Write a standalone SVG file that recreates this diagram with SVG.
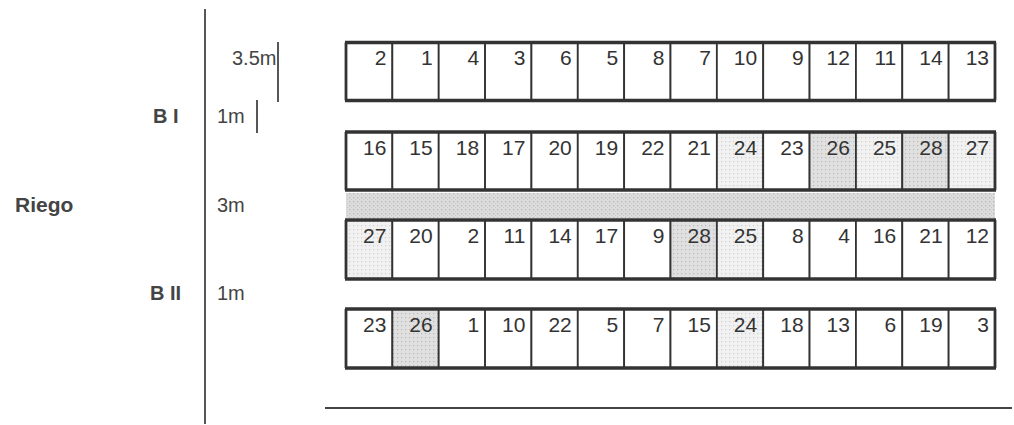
<svg xmlns="http://www.w3.org/2000/svg" width="1014" height="425" viewBox="0 0 1014 425">
<style>
.c{stroke:#333;stroke-width:1.8;fill:#fff}
.lt{fill:url(#plt)}
.md{fill:url(#pmd)}
.n{font-family:"Liberation Sans",Arial,sans-serif;font-size:21px;fill:#333;text-anchor:end}
.lb{font-family:"Liberation Sans",Arial,sans-serif;font-size:20px;fill:#444}
.b{font-weight:bold}
.edge{stroke:#333;stroke-width:3.5}
.side{stroke:#333;stroke-width:2.8}
.ln{stroke:#444;stroke-width:1.8;fill:none}
</style>
<defs>
<pattern id="plt" width="4" height="4" patternUnits="userSpaceOnUse"><rect width="4" height="4" fill="#f1f1f1"/><rect x="1" y="1" width="1.2" height="1.2" fill="#cfcfcf"/></pattern>
<pattern id="pmd" width="4" height="4" patternUnits="userSpaceOnUse"><rect width="4" height="4" fill="#e0e0e0"/><rect x="1" y="1" width="1.2" height="1.2" fill="#b9b9b9"/></pattern>
<pattern id="pbd" width="4" height="4" patternUnits="userSpaceOnUse"><rect width="4" height="4" fill="#dcdcdc"/><rect x="1" y="1" width="1.3" height="1.3" fill="#b8b8b8"/><rect x="3" y="3" width="1" height="1" fill="#cacaca"/></pattern>
</defs>
<rect width="1014" height="425" fill="#fff"/>

<g id="labels">
<text class="lb" x="232" y="65">3.5m</text>
<text class="lb b" x="153" y="123">B I</text>
<text class="lb" x="217" y="123">1m</text>
<text class="lb b" x="15" y="212" style="font-size:21px">Riego</text>
<text class="lb" x="217" y="212">3m</text>
<text class="lb b" x="150" y="300">B II</text>
<text class="lb" x="217" y="300">1m</text>
</g>

<g id="connectors">
<line class="ln" x1="205" y1="9" x2="205" y2="424"/>
<line class="ln" x1="278" y1="42" x2="278" y2="102"/>
<line class="ln" x1="257" y1="100" x2="257" y2="133"/>
<line class="ln" x1="325" y1="408" x2="1012" y2="408"/>
</g>

<g id="riego-band"><rect x="346" y="193" width="649" height="25" fill="url(#pbd)"/></g>

<g id="row1">
<g id="r1c1"><rect class="c" x="346" y="42.5" width="46.36" height="58"/><text class="n" x="386.4" y="65">2</text></g>
<g id="r1c2"><rect class="c" x="392.36" y="42.5" width="46.36" height="58"/><text class="n" x="432.7" y="65">1</text></g>
<g id="r1c3"><rect class="c" x="438.71" y="42.5" width="46.36" height="58"/><text class="n" x="479.1" y="65">4</text></g>
<g id="r1c4"><rect class="c" x="485.07" y="42.5" width="46.36" height="58"/><text class="n" x="525.4" y="65">3</text></g>
<g id="r1c5"><rect class="c" x="531.43" y="42.5" width="46.36" height="58"/><text class="n" x="571.8" y="65">6</text></g>
<g id="r1c6"><rect class="c" x="577.79" y="42.5" width="46.36" height="58"/><text class="n" x="618.1" y="65">5</text></g>
<g id="r1c7"><rect class="c" x="624.14" y="42.5" width="46.36" height="58"/><text class="n" x="664.5" y="65">8</text></g>
<g id="r1c8"><rect class="c" x="670.5" y="42.5" width="46.36" height="58"/><text class="n" x="710.9" y="65">7</text></g>
<g id="r1c9"><rect class="c" x="716.86" y="42.5" width="46.36" height="58"/><text class="n" x="757.2" y="65">10</text></g>
<g id="r1c10"><rect class="c" x="763.21" y="42.5" width="46.36" height="58"/><text class="n" x="803.6" y="65">9</text></g>
<g id="r1c11"><rect class="c" x="809.57" y="42.5" width="46.36" height="58"/><text class="n" x="849.9" y="65">12</text></g>
<g id="r1c12"><rect class="c" x="855.93" y="42.5" width="46.36" height="58"/><text class="n" x="896.3" y="65">11</text></g>
<g id="r1c13"><rect class="c" x="902.29" y="42.5" width="46.36" height="58"/><text class="n" x="942.6" y="65">14</text></g>
<g id="r1c14"><rect class="c" x="948.64" y="42.5" width="46.36" height="58"/><text class="n" x="989" y="65">13</text></g>
<line class="side" x1="346" y1="42.5" x2="346" y2="100.5"/><line class="side" x1="995" y1="42.5" x2="995" y2="100.5"/>
<line class="edge" x1="345" y1="42.5" x2="996" y2="42.5"/><line class="edge" x1="345" y1="100.5" x2="996" y2="100.5"/>
</g>

<g id="row2">
<g id="r2c1"><rect class="c" x="346" y="132" width="46.36" height="58"/><text class="n" x="386.4" y="154.5">16</text></g>
<g id="r2c2"><rect class="c" x="392.36" y="132" width="46.36" height="58"/><text class="n" x="432.7" y="154.5">15</text></g>
<g id="r2c3"><rect class="c" x="438.71" y="132" width="46.36" height="58"/><text class="n" x="479.1" y="154.5">18</text></g>
<g id="r2c4"><rect class="c" x="485.07" y="132" width="46.36" height="58"/><text class="n" x="525.4" y="154.5">17</text></g>
<g id="r2c5"><rect class="c" x="531.43" y="132" width="46.36" height="58"/><text class="n" x="571.8" y="154.5">20</text></g>
<g id="r2c6"><rect class="c" x="577.79" y="132" width="46.36" height="58"/><text class="n" x="618.1" y="154.5">19</text></g>
<g id="r2c7"><rect class="c" x="624.14" y="132" width="46.36" height="58"/><text class="n" x="664.5" y="154.5">22</text></g>
<g id="r2c8"><rect class="c" x="670.5" y="132" width="46.36" height="58"/><text class="n" x="710.9" y="154.5">21</text></g>
<g id="r2c9"><rect class="c lt" x="716.86" y="132" width="46.36" height="58"/><text class="n" x="757.2" y="154.5">24</text></g>
<g id="r2c10"><rect class="c" x="763.21" y="132" width="46.36" height="58"/><text class="n" x="803.6" y="154.5">23</text></g>
<g id="r2c11"><rect class="c md" x="809.57" y="132" width="46.36" height="58"/><text class="n" x="849.9" y="154.5">26</text></g>
<g id="r2c12"><rect class="c lt" x="855.93" y="132" width="46.36" height="58"/><text class="n" x="896.3" y="154.5">25</text></g>
<g id="r2c13"><rect class="c md" x="902.29" y="132" width="46.36" height="58"/><text class="n" x="942.6" y="154.5">28</text></g>
<g id="r2c14"><rect class="c lt" x="948.64" y="132" width="46.36" height="58"/><text class="n" x="989" y="154.5">27</text></g>
<line class="side" x1="346" y1="132" x2="346" y2="190"/><line class="side" x1="995" y1="132" x2="995" y2="190"/>
<line class="edge" x1="345" y1="132" x2="996" y2="132"/><line class="edge" x1="345" y1="190" x2="996" y2="190"/>
</g>

<g id="row3">
<g id="r3c1"><rect class="c lt" x="346" y="220" width="46.36" height="59"/><text class="n" x="386.4" y="243">27</text></g>
<g id="r3c2"><rect class="c" x="392.36" y="220" width="46.36" height="59"/><text class="n" x="432.7" y="243">20</text></g>
<g id="r3c3"><rect class="c" x="438.71" y="220" width="46.36" height="59"/><text class="n" x="479.1" y="243">2</text></g>
<g id="r3c4"><rect class="c" x="485.07" y="220" width="46.36" height="59"/><text class="n" x="525.4" y="243">11</text></g>
<g id="r3c5"><rect class="c" x="531.43" y="220" width="46.36" height="59"/><text class="n" x="571.8" y="243">14</text></g>
<g id="r3c6"><rect class="c" x="577.79" y="220" width="46.36" height="59"/><text class="n" x="618.1" y="243">17</text></g>
<g id="r3c7"><rect class="c" x="624.14" y="220" width="46.36" height="59"/><text class="n" x="664.5" y="243">9</text></g>
<g id="r3c8"><rect class="c md" x="670.5" y="220" width="46.36" height="59"/><text class="n" x="710.9" y="243">28</text></g>
<g id="r3c9"><rect class="c lt" x="716.86" y="220" width="46.36" height="59"/><text class="n" x="757.2" y="243">25</text></g>
<g id="r3c10"><rect class="c" x="763.21" y="220" width="46.36" height="59"/><text class="n" x="803.6" y="243">8</text></g>
<g id="r3c11"><rect class="c" x="809.57" y="220" width="46.36" height="59"/><text class="n" x="849.9" y="243">4</text></g>
<g id="r3c12"><rect class="c" x="855.93" y="220" width="46.36" height="59"/><text class="n" x="896.3" y="243">16</text></g>
<g id="r3c13"><rect class="c" x="902.29" y="220" width="46.36" height="59"/><text class="n" x="942.6" y="243">21</text></g>
<g id="r3c14"><rect class="c" x="948.64" y="220" width="46.36" height="59"/><text class="n" x="989" y="243">12</text></g>
<line class="side" x1="346" y1="220" x2="346" y2="279"/><line class="side" x1="995" y1="220" x2="995" y2="279"/>
<line class="edge" x1="345" y1="220" x2="996" y2="220"/><line class="edge" x1="345" y1="279" x2="996" y2="279"/>
</g>

<g id="row4">
<g id="r4c1"><rect class="c" x="346" y="309" width="46.36" height="59"/><text class="n" x="386.4" y="332">23</text></g>
<g id="r4c2"><rect class="c md" x="392.36" y="309" width="46.36" height="59"/><text class="n" x="432.7" y="332">26</text></g>
<g id="r4c3"><rect class="c" x="438.71" y="309" width="46.36" height="59"/><text class="n" x="479.1" y="332">1</text></g>
<g id="r4c4"><rect class="c" x="485.07" y="309" width="46.36" height="59"/><text class="n" x="525.4" y="332">10</text></g>
<g id="r4c5"><rect class="c" x="531.43" y="309" width="46.36" height="59"/><text class="n" x="571.8" y="332">22</text></g>
<g id="r4c6"><rect class="c" x="577.79" y="309" width="46.36" height="59"/><text class="n" x="618.1" y="332">5</text></g>
<g id="r4c7"><rect class="c" x="624.14" y="309" width="46.36" height="59"/><text class="n" x="664.5" y="332">7</text></g>
<g id="r4c8"><rect class="c" x="670.5" y="309" width="46.36" height="59"/><text class="n" x="710.9" y="332">15</text></g>
<g id="r4c9"><rect class="c lt" x="716.86" y="309" width="46.36" height="59"/><text class="n" x="757.2" y="332">24</text></g>
<g id="r4c10"><rect class="c" x="763.21" y="309" width="46.36" height="59"/><text class="n" x="803.6" y="332">18</text></g>
<g id="r4c11"><rect class="c" x="809.57" y="309" width="46.36" height="59"/><text class="n" x="849.9" y="332">13</text></g>
<g id="r4c12"><rect class="c" x="855.93" y="309" width="46.36" height="59"/><text class="n" x="896.3" y="332">6</text></g>
<g id="r4c13"><rect class="c" x="902.29" y="309" width="46.36" height="59"/><text class="n" x="942.6" y="332">19</text></g>
<g id="r4c14"><rect class="c" x="948.64" y="309" width="46.36" height="59"/><text class="n" x="989" y="332">3</text></g>
<line class="side" x1="346" y1="309" x2="346" y2="368"/><line class="side" x1="995" y1="309" x2="995" y2="368"/>
<line class="edge" x1="345" y1="309" x2="996" y2="309"/><line class="edge" x1="345" y1="368" x2="996" y2="368"/>
</g>
</svg>
